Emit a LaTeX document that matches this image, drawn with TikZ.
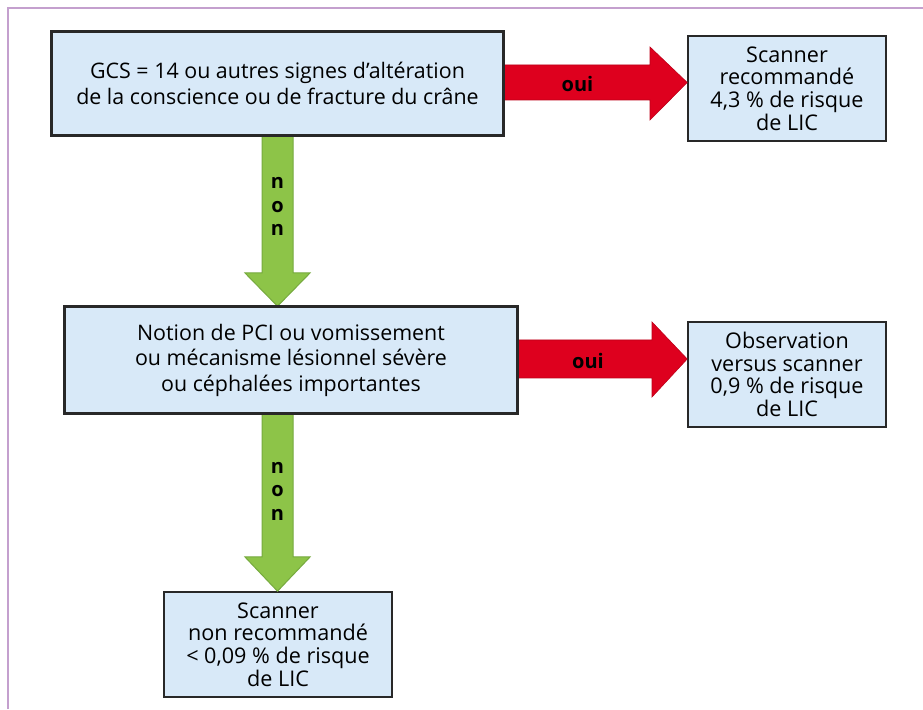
\documentclass[tikz,border=0pt]{standalone}
\usepackage{fontspec}
\setmainfont{Open Sans}
\usetikzlibrary{calc}
\definecolor{framec}{RGB}{196,160,206}
\definecolor{boxfill}{RGB}{216,233,248}
\definecolor{boxdraw}{RGB}{40,40,40}
\definecolor{redarr}{RGB}{222,0,30}
\definecolor{rededge}{RGB}{190,0,25}
\definecolor{greenarr}{RGB}{141,196,72}
\definecolor{greenedge}{RGB}{118,170,62}
\tikzset{
  box/.style={draw=boxdraw, line width=1.6pt, fill=boxfill, align=center, inner sep=0pt},
  bigtext/.style={font=\fontsize{21.4}{25.5}\selectfont},
  smalltext/.style={font=\fontsize{21.6}{22.6}\selectfont},
  redshape/.style={fill=redarr, draw=rededge, line width=0.6pt},
  greenshape/.style={fill=greenarr, draw=greenedge, line width=1pt},
  lbl/.style={font=\bfseries\fontsize{20}{23.5}\selectfont, align=center, inner sep=0pt},
}
\begin{document}
\begin{tikzpicture}[x=1pt,y=1pt]
\useasboundingbox (0,0) rectangle (923,709);
\fill[white] (0,0) rectangle (923,709);
% frame
\draw[framec, line width=1.5pt] (8,0) -- (8,701) -- (923,701);

% boxes
\node[box, bigtext, minimum width=451pt, minimum height=103pt] (b1) at (277.5,625.5)
  {GCS = 14 ou autres signes d’altération\\de la conscience ou de fracture du crâne};
\node[box, smalltext, minimum width=198pt, minimum height=105pt] (b2) at (787,620.5)
  {Scanner\\recommandé\\4,3 \% de risque\\de LIC};
\node[box, bigtext, minimum width=452pt, minimum height=106pt] (b3) at (291,349)
  {Notion de PCI ou vomissement\\ou mécanisme lésionnel sévère\\ou céphalées importantes};
\node[box, smalltext, minimum width=198pt, minimum height=105pt] (b4) at (787,334.5)
  {Observation\\versus scanner\\0,9 \% de risque\\de LIC};
\node[box, smalltext, minimum width=228pt, minimum height=105pt] (b5) at (278,64.5)
  {Scanner\\non recommandé\\< 0,09 \% de risque\\de LIC};

% red arrow 1
\coordinate (t1) at (b2.west |- 0,626.5);
\filldraw[redshape] (b1.east |- 0,644) -- (650,644) -- (650,662) -- (t1) -- (650,589) -- (650,609) -- (b1.east |- 0,609) -- cycle;
\node[lbl] (o1) at (577.5,624.5) {oui};

% red arrow 2
\coordinate (t2) at (b4.west |- 0,350);
\filldraw[redshape] (b3.east |- 0,369) -- (652,369) -- (652,387) -- (t2) -- (652,312) -- (652,331) -- (b3.east |- 0,331) -- cycle;
\node[lbl] (o2) at (588,348) {oui};

% green arrow 1
\coordinate (g1) at (277.5,0 |- b3.north);
\filldraw[greenshape] (262,0 |- b1.south) -- (262,436) -- (245,436) -- (g1) -- (310,436) -- (293,436) -- (293,0 |- b1.south) -- cycle;
\node[lbl] (n1) at (277.5,502.5) {n\\o\\n};

% green arrow 2
\coordinate (g2) at (277.5,0 |- b5.north);
\filldraw[greenshape] (262,0 |- b3.south) -- (262,152) -- (245,152) -- (g2) -- (310,152) -- (293,152) -- (293,0 |- b3.south) -- cycle;
\node[lbl] (n2) at (277.5,218) {n\\o\\n};

% redraw box borders on top of arrow joins
\draw[boxdraw, line width=1.6pt] (b1.south west) rectangle (b1.north east);
\draw[boxdraw, line width=1.6pt] (b3.south west) rectangle (b3.north east);
\end{tikzpicture}
\end{document}
